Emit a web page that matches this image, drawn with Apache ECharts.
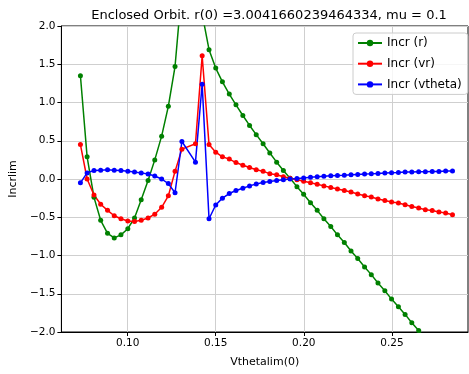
<!DOCTYPE html>
<html>
<head>
<meta charset="utf-8">
<script src="https://cdn.jsdelivr.net/npm/echarts@6/dist/echarts.min.js"></script>
<style>
  html, body { margin: 0; padding: 0; background: #fff; }
  #chart { width: 469px; height: 374px; }
</style>
</head>
<body>
<div id="chart"></div>
<script>
// x values (one point seems absent near 0.133)
const xVals = [
  0.0732, 0.0770, 0.0809, 0.0847, 0.0886, 0.0924, 0.0962, 0.1001, 0.1039, 0.1077,
  0.1116, 0.1154, 0.1193, 0.1231, 0.1269, 0.1308, 0.1385, 0.1423, 0.1462,
  0.1500, 0.1538, 0.1577, 0.1615, 0.1654, 0.1692, 0.1730, 0.1769, 0.1807, 0.1846,
  0.1884, 0.1922, 0.1961, 0.1999, 0.2038, 0.2076, 0.2114, 0.2153, 0.2191, 0.2230,
  0.2268, 0.2306, 0.2345, 0.2383, 0.2421, 0.2460, 0.2498, 0.2537, 0.2575, 0.2613,
  0.2652, 0.2690, 0.2729, 0.2767, 0.2805, 0.2844
];
const incrR = [
  1.35, 0.29, -0.24, -0.54, -0.71, -0.77, -0.73, -0.65, -0.51, -0.27,
  -0.02, 0.25, 0.56, 0.95, 1.47, 2.5, 3.0, 2.16, 1.69,
  1.45, 1.27, 1.11, 0.97, 0.83, 0.70, 0.58, 0.46, 0.34, 0.22,
  0.11, 0.01, -0.10, -0.20, -0.31, -0.41, -0.52, -0.62, -0.73, -0.83,
  -0.94, -1.04, -1.15, -1.25, -1.36, -1.46, -1.57, -1.67, -1.77, -1.88,
  -1.98, -2.09, -2.19, -2.30, -2.40, -2.50
];
const incrVr = [
  0.45, 0.0, -0.21, -0.33, -0.41, -0.48, -0.52, -0.55, -0.555, -0.54,
  -0.51, -0.46, -0.37, -0.22, 0.10, 0.39, 0.46, 1.61, 0.45,
  0.35, 0.29, 0.26, 0.215, 0.18, 0.15, 0.12, 0.10, 0.07, 0.055,
  0.03, 0.01, -0.01, -0.03, -0.05, -0.07, -0.09, -0.11, -0.13, -0.15,
  -0.17, -0.197, -0.219, -0.236, -0.262, -0.281, -0.302, -0.315, -0.337, -0.359,
  -0.380, -0.402, -0.411, -0.432, -0.445, -0.467
];
const incrVtheta = [
  -0.05, 0.08, 0.11, 0.115, 0.12, 0.115, 0.11, 0.10, 0.09, 0.08,
  0.065, 0.04, 0.0, -0.06, -0.18, 0.49, 0.22, 1.24, -0.52,
  -0.34, -0.25, -0.19, -0.15, -0.12, -0.09, -0.065, -0.046, -0.033, -0.02,
  -0.01, 0.0, 0.005, 0.012, 0.022, 0.03, 0.036, 0.041, 0.046, 0.05,
  0.055, 0.06, 0.065, 0.068, 0.072, 0.077, 0.081, 0.085, 0.09, 0.09,
  0.094, 0.094, 0.098, 0.098, 0.103, 0.103
];
const xTicks = [0.10, 0.15, 0.20, 0.25];

const font = "DejaVu Sans";
const pairs = (ys) => xVals.map((x, i) => [x, ys[i]]);

const lineSeries = (name, color, ys) => ({
  name: name,
  type: "line",
  data: pairs(ys),
  symbol: "circle",
  symbolSize: 5,
  showAllSymbol: true,
  clip: true,
  lineStyle: { color: color, width: 1.5 },
  itemStyle: { color: color },
  emphasis: { disabled: true },
  animation: false,
});

const chart = echarts.init(document.getElementById("chart"), null, { renderer: "canvas" });
chart.setOption({
  animation: false,
  title: {
    text: "Enclosed Orbit. r(0) =3.0041660239464334, mu = 0.1",
    left: 264,
    textAlign: "center",
    top: 4,
    textStyle: { fontFamily: font, fontSize: 13, fontWeight: "normal", color: "#000" },
  },
  legend: {
    orient: "vertical",
    left: 353,
    top: 33,
    padding: [4, 6, 4, 4],
    itemWidth: 24,
    itemHeight: 8,
    itemGap: 8.7,
    backgroundColor: "rgba(255,255,255,0.8)",
    borderColor: "#cccccc",
    borderWidth: 1,
    borderRadius: 3,
    textStyle: { fontFamily: font, fontSize: 12, color: "#000" },
    data: ["Incr (r)", "Incr (vr)", "Incr (vtheta)"],
  },
  grid: {
    left: 60,
    right: 1,
    top: 26,
    bottom: 42,
    show: true,
    borderColor: "#000",
    borderWidth: 1,
    backgroundColor: "transparent",
  },
  xAxis: {
    type: "value",
    min: 0.0624,
    max: 0.2932,
    name: "Vthetalim(0)",
    nameLocation: "middle",
    nameGap: 25,
    nameTextStyle: { fontFamily: font, fontSize: 11, color: "#000" },
    axisLine: { onZero: false, lineStyle: { color: "#000" } },
    axisTick: { show: true, length: 4, customValues: xTicks, lineStyle: { color: "#000" } },
    axisLabel: {
      customValues: xTicks,
      fontFamily: font,
      fontSize: 10.5,
      color: "#000",
      margin: 6,
      formatter: (v) => v.toFixed(2),
    },
    splitLine: { show: true, lineStyle: { color: "#cfcfcf", width: 1 } },
  },
  yAxis: {
    type: "value",
    min: -2,
    max: 2,
    interval: 0.5,
    name: "Incrlim",
    nameLocation: "middle",
    nameGap: 40,
    nameRotate: 90,
    nameTextStyle: { fontFamily: font, fontSize: 11, color: "#000" },
    axisLine: { show: true, lineStyle: { color: "#000" } },
    axisTick: { show: true, length: 4, lineStyle: { color: "#000" } },
    axisLabel: {
      fontFamily: font,
      fontSize: 10.5,
      color: "#000",
      margin: 6,
      formatter: (v) => v.toFixed(1).replace("-", "\u2212"),
    },
    splitLine: { show: true, lineStyle: { color: "#cfcfcf", width: 1 } },
  },
  series: [
    lineSeries("Incr (r)", "#008000", incrR),
    lineSeries("Incr (vr)", "#ff0000", incrVr),
    lineSeries("Incr (vtheta)", "#0000ff", incrVtheta),
  ],
});
</script>
</body>
</html>
